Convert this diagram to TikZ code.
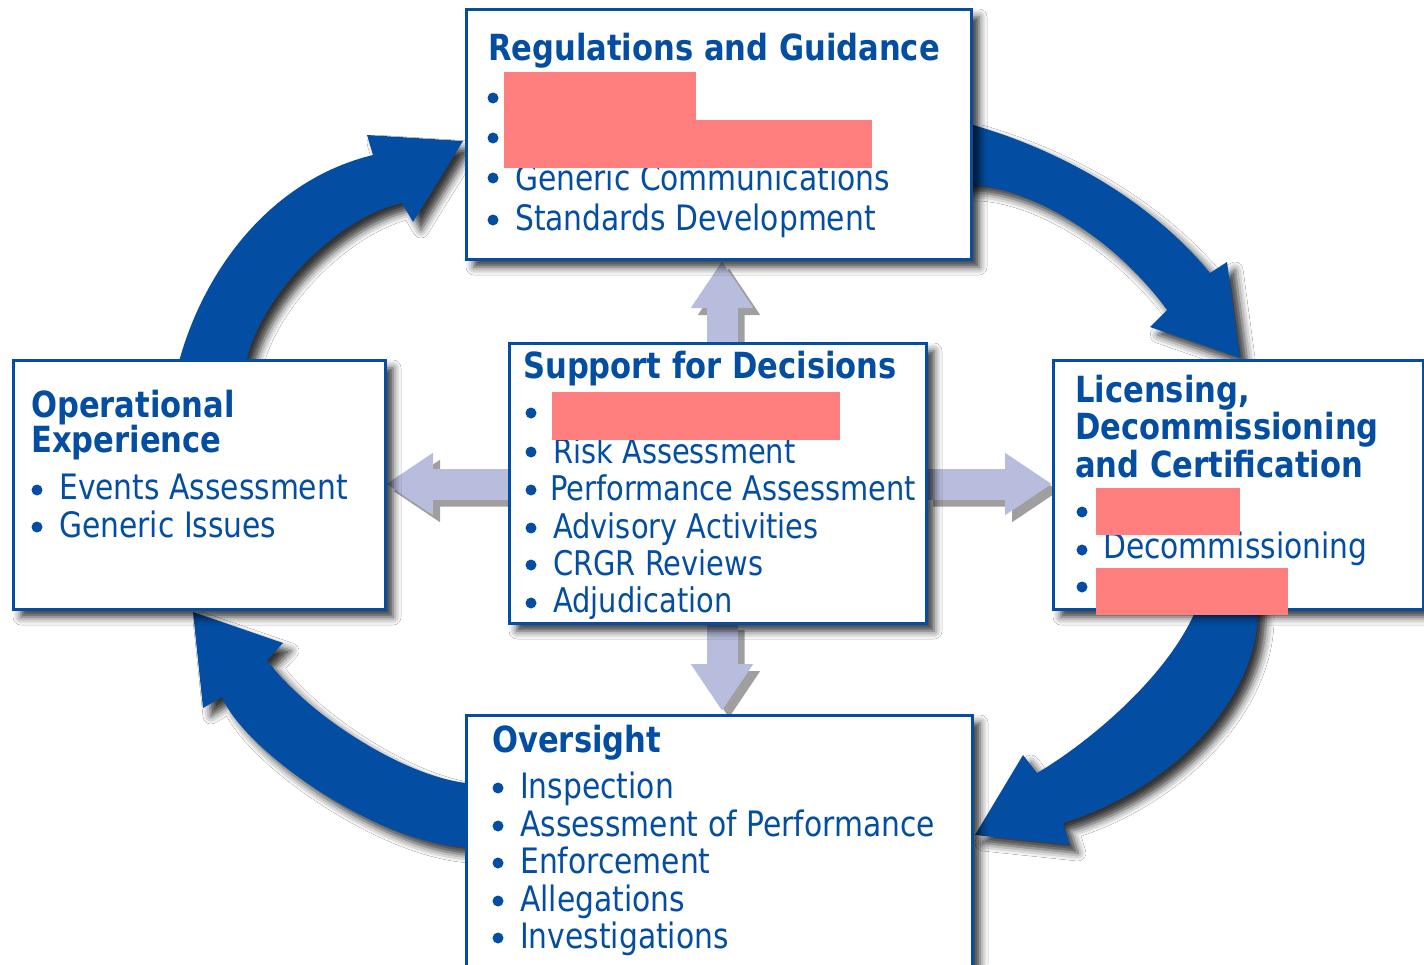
\documentclass[tikz,border=0pt]{standalone}
\usepackage{fontspec}
\newfontfamily\nrcfont{DejaVu Sans}[FakeStretch=0.85]
\usetikzlibrary{arrows.meta,backgrounds,shadows.blur}
\definecolor{nrcblue}{RGB}{3,78,162}
\definecolor{lavblue}{RGB}{184,189,222}
\definecolor{redact}{RGB}{255,127,127}
\tikzset{
  shad/.style={blur shadow={shadow xshift=8pt, shadow yshift=-8pt,
      shadow blur radius=8pt, shadow opacity=80}},
  box/.style={draw=nrcblue, line width=3pt, fill=white, outer sep=0pt,
    inner sep=0pt, anchor=north west, shad},
  ttl/.style={anchor=base west, inner sep=0pt, text=nrcblue,
    font=\nrcfont\bfseries\fontsize{36}{40}\selectfont},
  itm/.style={anchor=base west, inner sep=0pt, text=nrcblue,
    font=\nrcfont\fontsize{35}{40}\selectfont},
  itms/.style={itm, font=\nrcfont\fontsize{34}{40}\selectfont},
  bul/.style={circle, fill=nrcblue, inner sep=0pt, minimum size=11pt},
  cyc/.style={fill=nrcblue, shad},
  lav/.style={draw=lavblue, line width=31pt, -{Triangle[length=47pt,width=59pt]}},
}
\begin{document}
\begin{tikzpicture}[x=1pt,y=-1pt]
  \useasboundingbox (0,0) rectangle (1424,964);
  \clip (0,0) rectangle (1424,964);

  % the five boxes
  \node[box, minimum width=505pt, minimum height=250pt] (reg) at (466,9) {};
  \node[box, minimum width=417pt, minimum height=280pt] (sup) at (509,343) {};
  \node[box, minimum width=372pt, minimum height=249pt] (opx) at (13,360) {};
  \node[box, minimum width=370pt, minimum height=249pt] (lic) at (1053,360) {};
  \node[box, minimum width=506pt, minimum height=300pt] (ovs) at (466,715) {};

  \coordinate (vx) at (722,0);
  \coordinate (hy) at (0,484);

  \begin{scope}[on background layer]
    \fill[white] (0,0) rectangle (1424,964);
    % cycle arrows
    \fill[cyc] (176,372) -- (180,358) .. controls (205,270) and (270,180) .. (373,155)
      -- (367,135) -- (463,141) -- (413,222) -- (402,203)
      .. controls (342,216) and (265,288) .. (247,358) -- (243,372) -- cycle;
    \fill[cyc] (960,125) -- (973,125) .. controls (1060,150) and (1150,200) .. (1210,273)
      -- (1227,262) -- (1240,358) -- (1150,327) -- (1167,310)
      .. controls (1120,245) and (1040,190) .. (973,185) -- (960,185) -- cycle;
    \fill[cyc] (1193,598) -- (1258,598) -- (1258,610) .. controls (1258,700) and (1170,790) .. (1063,823)
      -- (1070,845) -- (975,835) -- (1023,755) -- (1037,773)
      .. controls (1085,745) and (1165,680) .. (1195,612) -- cycle;
    \fill[cyc] (478,783) -- (466,783) .. controls (400,775) and (305,712) .. (267,660)
      -- (283,643) -- (193,612) -- (203,708) -- (222,697)
      .. controls (245,752) and (380,845) .. (466,847) -- (478,847) -- cycle;
    % support arrows
    \begin{scope}[transform canvas={shift={(7pt,-7pt)}}]
      \begin{scope}[transparency group, opacity=.5]
        \draw[lav, draw=black!75, shorten >=2pt] (sup.north -| vx) -- (reg.south -| vx);
        \draw[lav, draw=black!75, shorten >=4pt] (sup.south -| vx) -- (ovs.north -| vx);
        \draw[lav, draw=black!75, shorten >=1pt] (sup.west |- hy) -- (opx.east |- hy);
        \draw[lav, draw=black!75, shorten >=1pt] (sup.east |- hy) -- (lic.west |- hy);
      \end{scope}
    \end{scope}
    \draw[lav, shorten >=2pt] (sup.north -| vx) -- (reg.south -| vx);
    \draw[lav, shorten >=4pt] (sup.south -| vx) -- (ovs.north -| vx);
    \draw[lav, shorten >=1pt] (sup.west |- hy) -- (opx.east |- hy);
    \draw[lav, shorten >=1pt] (sup.east |- hy) -- (lic.west |- hy);
  \end{scope}

  % Regulations and Guidance
  \node[ttl] (reg-t) at (488,60) {Regulations and Guidance};
  \node[bul] (reg-b1) at (493,98) {};
  \node[bul] (reg-b2) at (493,138) {};
  \node[bul] (reg-b3) at (493,178) {};
  \node[bul] (reg-b4) at (493,220) {};
  \node[itm] (reg-i3) at (515,190) {Generic Communications};
  \node[itm] (reg-i4) at (515,230) {Standards Development};

  % Support for Decisions
  \node[ttl] (sup-t) at (523,378) {Support for Decisions};
  \node[bul] (sup-b1) at (531,413) {};
  \node[bul] (sup-b2) at (531,452) {};
  \node[bul] (sup-b3) at (531,490) {};
  \node[bul] (sup-b4) at (531,528) {};
  \node[bul] (sup-b5) at (531,565) {};
  \node[bul] (sup-b6) at (531,603) {};
  \node[itms] (sup-i2) at (553,463) {Risk Assessment};
  \node[itms] (sup-i3) at (550,500) {Performance Assessment};
  \node[itms] (sup-i4) at (553,538) {Advisory Activities};
  \node[itms] (sup-i5) at (553,575) {CRGR Reviews};
  \node[itms] (sup-i6) at (553,612) {Adjudication};

  % Operational Experience
  \node[ttl] (opx-t1) at (31,417) {Operational};
  \node[ttl] (opx-t2) at (31,452) {Experience};
  \node[bul] (opx-b1) at (37,490) {};
  \node[bul] (opx-b2) at (37,527) {};
  \node[itm] (opx-i1) at (59,499) {Events Assessment};
  \node[itm] (opx-i2) at (59,537) {Generic Issues};

  % Licensing, Decommissioning and Certification
  \node[ttl] (lic-t1) at (1075,402) {Licensing,};
  \node[ttl] (lic-t2) at (1075,439) {Decommissioning};
  \node[ttl] (lic-t3) at (1075,477) {and Certification};
  \node[bul] (lic-b1) at (1082,512) {};
  \node[bul] (lic-b2) at (1082,550) {};
  \node[bul] (lic-b3) at (1082,587) {};
  \node[itm] (lic-i2) at (1103,558) {Decommissioning};

  % Oversight
  \node[ttl] (ovs-t) at (492,752) {Oversight};
  \node[bul] (ovs-b1) at (498,788) {};
  \node[bul] (ovs-b2) at (498,826) {};
  \node[bul] (ovs-b3) at (498,863) {};
  \node[bul] (ovs-b4) at (498,901) {};
  \node[bul] (ovs-b5) at (498,938) {};
  \node[itm] (ovs-i1) at (520,798) {Inspection};
  \node[itm] (ovs-i2) at (520,836) {Assessment of Performance};
  \node[itm] (ovs-i3) at (520,873) {Enforcement};
  \node[itm] (ovs-i4) at (520,911) {Allegations};
  \node[itm] (ovs-i5) at (520,948) {Investigations};

  % redacted parts
  \fill[redact] (504,72) rectangle (696,120);
  \fill[redact] (504,120) rectangle (872,168);
  \fill[redact] (552,392) rectangle (840,440);
  \fill[redact] (1096,488) rectangle (1240,535);
  \fill[redact] (1096,568) rectangle (1288,615);
\end{tikzpicture}
\end{document}
